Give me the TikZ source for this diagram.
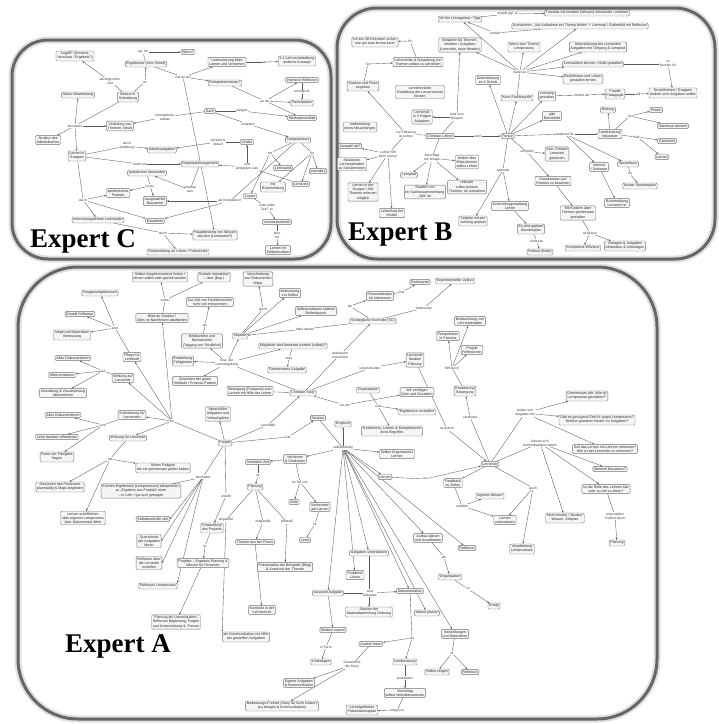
\documentclass[tikz,border=0pt]{standalone}
\usepackage{fontspec}
\newfontfamily\sm{Liberation Sans}
\newfontfamily\tnr{Liberation Serif}
\usetikzlibrary{arrows.meta}
\pgfdeclarelayer{bg}
\pgfsetlayers{bg,main}
\begin{document}
\begin{tikzpicture}[x=1pt,y=-1pt,
 bx/.style={draw=black!55, fill=black!4, rounded corners=1.2pt, inner sep=1.3pt, font=\sm\fontsize{3.6}{4.1}\selectfont, align=center, line width=0.4pt, text=black!85},
 lb/.style={inner sep=0.5pt, fill=white, font=\sm\fontsize{3.3}{3.8}\selectfont, align=center, text=black!80},
 ln/.style={draw=black!65, line width=0.35pt},
 ar/.style={ln, -{Stealth[length=2.2pt,width=1.8pt]}},
 halo/.style={draw=black!12, line width=7pt},
 panel/.style={draw=black!60, line width=3pt},
 big/.style={font=\tnr\bfseries\fontsize{27}{27}\selectfont, inner sep=0, anchor=base west}]
\useasboundingbox (0,0) rectangle (719,724);

% ================= EXPERT C nodes =================
\node[bx] (c1) at (75,56) {Zugriff? (Screens,\\ Vorschau / Ergebnis?)};
\node[bx] (c2) at (146,64) {Ergebnisse (eine Sheet)};
\node[bx] (c3) at (188,52) {Eltern?};
\node[bx] (c4) at (227,62) {Unterstützung beim\\ Lernen und Verstehen};
\node[bx] (c5) at (297,61) {1:1 Lehrveranstaltung\\ anderes Konzept};
\node[bx] (c6) at (225,83) {Kompetenzniveau?};
\node[bx] (c7) at (302,80) {intensive Reflexion};
\node[bx] (c8) at (302,103) {Partizipation};
\node[bx] (c9) at (302,118) {Methodenvielfalt};
\node[bx] (c10) at (128,97) {Besser in\\ Schreibung};
\node[bx] (c11) at (78,95) {Aktive Bearbeitung};
\node[bx] (c12) at (120,126) {Verteilung von\\ Themen, Inhalt};
\node[bx] (c13) at (48,140) {Struktur des\\ Arbeitsbuches};
\node[bx] (c14) at (210,111) {Sach};
\node[bx] (c15) at (298,140) {Computerkurs};
\node[bx] (c16) at (247,142) {Inhalte};
\node[bx] (c17) at (77,156) {Lernen in\\ Gruppen};
\node[bx] (c18) at (162,150) {Arbeitsaufgaben};
\node[bx] (c19) at (147,173) {praktisches Anwenden};
\node[bx] (c20) at (118,193) {spielerisches\\ Produkt};
\node[bx] (c21) at (155,201) {Ausgewählte\\ Bausteine};
\node[bx] (c22) at (155,221) {Erweiterte};
\node[bx] (c23) at (98,220) {Interessengeleitete Lerninhalte};
\node[bx] (c24) at (200,164) {Reproduktionsgerecht};
\node[bx] (c25) at (283,168) {Lernstand};
\node[bx] (c26) at (318,171) {Interaktiv};
\node[bx] (c27) at (273,187) {mit\\ Rückmeldung};
\node[bx] (c28) at (301,184) {Lernziele};
\node[bx] (c29) at (250,196) {Zusatz};
\node[bx] (c30) at (277,222) {Lerninstrumente};
\node[bx] (c31) at (278,250) {Lernen im\\ Selbststudium};
\node[bx] (c32) at (215,235) {Hauptleistung von Wissen\\ abrufen (Lernkarten?)};
\node[bx] (c33) at (178,252) {Rückmeldung an Lehrer / Fortschritte};

\node[lb] (l1) at (110,81) {benötigt mehr\\ Zeit};
\node[lb] (l2) at (143,52) {vgl. für};
\node[lb] (l3) at (145,82) {ist};
\node[lb] (l4) at (183,77) {ruft an auf};
\node[lb] (l5) at (265,62) {ist};
\node[lb] (l6) at (265,101) {an die};
\node[lb] (l7) at (302,92) {ermöglicht};
\node[lb] (l8) at (75,126) {kursiertes};
\node[lb] (l9) at (165,117) {Informations-\\ aufbau};
\node[lb] (l10) at (242,111) {steigert};
\node[lb] (l11) at (248,124) {erweitert};
\node[lb] (l13) at (218,142) {Vorsicht \&\\ Ablauf};
\node[lb] (l14) at (127,146) {durch\\ Anleitung};
\node[lb] (l15) at (140,164) {durch ein};
\node[lb] (l16) at (150,186) {ist ein};
\node[lb] (l17) at (83,200) {durch};
\node[lb] (l18) at (163,233) {durch};
\node[lb] (l19) at (190,190) {genauso\\ sehr};
\node[lb] (l20) at (230,201) {als Kompetenz?};
\node[lb] (l21) at (247,167) {und\\ erfolgreich sein};
\node[lb] (l22) at (270,153) {mit};
\node[lb] (l23) at (312,153) {für};
\node[lb] (l24) at (267,207) {unter jeder\\ Zeit? zu};
\node[lb] (l25) at (277,235) {lernt\\ für};

% ================= EXPERT B nodes =================
\node[bx] (b1) at (460,19) {Ich bin Lernagentur / Tipp};
\node[bx] (b2) at (587,13) {Tutorials mit Inhalten (Wissen) entwickeln / erklären};
\node[bx] (b3) at (580,26) {Aufnahmen: „Vor Aufnahme ein Thema finden“ + Lernmap / Rollenbild mit Reflexion};
\node[bx] (b4) at (375,42) {Ich bin 3D Einheiten sicher,\\ wie gut man lernen kann};
\node[bx] (b5) at (460,45) {Beispiele für Themen,\\ Inhalten / Aufgaben\\ (Lernziele, neue Medien)};
\node[bx] (b6) at (524,47) {Wenn zum Thema\\ Lernprozess};
\node[bx] (b7) at (598,47) {Unterstützung bei Lernenden\\ Aufgaben mit Tiefgang \& Lernpfad};
\node[bx] (b8) at (593,64) {Lernstärken kennen, Inhalt gestalten};
\node[bx] (b9) at (583,79) {Bedürfnisse und Leben\\ gestalten lernen};
\node[bx] (b10) at (418,62) {Lehrschritte \& Gestaltung von\\ Themen selbst zu schreiben};
\node[bx] (b11) at (363,86) {Struktur und Fluss\\ angeben};
\node[bx] (b12) at (420,92) {Lerntechniken\\ Gestaltung der Lernprozesse\\ fördern};
\node[bx] (b13) at (488,80) {Unterstützung\\ im 3-Schritt};
\node[bx] (b14) at (517,98) {Kann Fachbegriffe};
\node[bx] (b15) at (422,117) {Lernende\\ in 3 Folgen\\ Aufgaben};
\node[bx] (b16) at (360,127) {Vorbereitung\\ eines Neuanfanges};
\node[bx] (b17) at (440,136) {Christian Lehrer};
\node[bx] (b18) at (508,136) {Person};
\node[bx] (b19) at (350,146) {Auswahl ob?};
\node[bx] (b20) at (352,164) {Strukturen\\ Lernmaterialien\\ zu Schülertexten};
\node[bx] (b21) at (467,162) {Ändert dies\\ Bildschirmen\\ selbst Lehrer};
\node[bx] (b22) at (409,175) {Lernpfad};
\node[bx] (b23) at (363,192) {Lernen in der\\ Gruppe / Ziel\\ Themen erlernen\\ möglich};
\node[bx] (b24) at (425,192) {Studien von\\ im Sachzusammenhang\\ „fällt“ an};
\node[bx] (b25) at (467,187) {relevant\\ sollen präzise\\ Themen, ist Aufnahme};
\node[bx] (b26) at (392,213) {Lehrerfolg der\\ Inhalte};
\node[bx] (b27) at (510,206) {Unterrichtsgestaltung\\ Lehrer};
\node[bx] (b28) at (473,221) {Zeitplan nutzen\\ vorherig geplant};
\node[bx] (b29) at (531,229) {Es wird geplant\\ Stundenplan};
\node[bx] (b30) at (547,96) {Lernweg\\ gestalten};
\node[bx] (b31) at (615,94) {Projekt\\ Pädagogik};
\node[bx] (b32) at (673,93) {Sozialformen / Gruppen\\ ändern sich Aufgaben selbst};
\node[bx] (b33) at (608,110) {Bildung};
\node[bx] (b34) at (656,110) {Praxis};
\node[bx] (b35) at (673,126) {Interesse wecken};
\node[bx] (b36) at (552,116) {gibt\\ Berufsfeld};
\node[bx] (b37) at (610,134) {Lernberatung\\ fokussiert};
\node[bx] (b38) at (667,141) {Gleichheit};
\node[bx] (b39) at (662,157) {Lernen};
\node[bx] (b40) at (557,154) {Sinn, Freizeit\\ Lernwert\\ gewinnen};
\node[bx] (b41) at (599,167) {Internet\\ / Software};
\node[bx] (b42) at (628,164) {Sprachkurs};
\node[bx] (b43) at (640,186) {Kurzer Stundenplan};
\node[bx] (b44) at (553,181) {Grundwissen auf\\ Position zu beachten};
\node[bx] (b45) at (617,203) {Rückmeldung\\ Lernwert ist};
\node[bx] (b46) at (578,213) {Mit Kindern über\\ Themen gemeinsam\\ gestalten};
\node[bx] (b47) at (583,248) {Kompetenz-Effizienz};
\node[bx] (b48) at (625,246) {Vorlagen \& Aufgaben\\ Aktivitäten \& Unterlagen};
\node[bx] (b49) at (540,252) {Rollout (Ende)};

\node[lb] (m1) at (508,14) {erstellt ggf. zu};
\node[lb] (m2) at (495,33) {erstellt};
\node[lb] (m3) at (410,41) {für};
\node[lb] (m4) at (368,64) {für};
\node[lb] (m5) at (520,72) {bietet an};
\node[lb] (m7) at (457,117) {lernt zum\\ Beispiel};
\node[lb] (m8) at (406,134) {zur Erklärung\\ ist Lehrer};
\node[lb] (m9) at (478,136) {lernt};
\node[lb] (m10) at (432,158) {berechtigt\\ mit Anlage};
\node[lb] (m11) at (388,154) {Lehrer hilft\\ beim Lernen};
\node[lb] (m13) at (503,170) {sammelt};
\node[lb] (m14) at (582,95) {fördert als};
\node[lb] (m15) at (638,94) {soll};
\node[lb] (m16) at (668,64) {zu\\ Berufen für};
\node[lb] (m17) at (565,134) {bedeutet für};
\node[lb] (m18) at (527,152) {schöpfen};
\node[lb] (m19) at (630,116) {ist};
\node[lb] (m20) at (637,137) {hält};
\node[lb] (m22) at (630,174) {zu};
\node[lb] (m23) at (590,233) {ist besser};
\node[lb] (m24) at (537,241) {bietet an};

% ================= EXPERT A nodes =================
\node[bx] (a1) at (160,277) {Selbst Vorgehensweise finden /\\ lernen selbst oder gezielt werden};
\node[bx] (a2) at (214,277) {Soziale Interaktion\\ – über (Bsp.)};
\node[bx] (a3) at (100,293) {Gruppenergebnissen};
\node[bx] (a4) at (210,302) {Zur Zeit von Fachbereichen\\ nicht viel entnommen};
\node[bx] (a5) at (80,314) {Erstellt Reflexion};
\node[bx] (a6) at (162,318) {Blick an Struktur /\\ Alles im Nachhinein abarbeiten};
\node[bx] (a7) at (72,335) {Inhalt und Materialien\\ Verfassung};
\node[bx] (a8) at (202,341) {Beobachten und\\ Nachdenken\\ (Tagging von Rückblick)};
\node[bx] (a9) at (240,336) {Objekte};
\node[bx] (a10) at (132,357) {Pflege für\\ Lehrkraft};
\node[bx] (a11) at (73,358) {Alles Dokumentieren};
\node[bx] (a12) at (183,361) {Erarbeitung\\ Fähigkeiten};
\node[bx] (a13) at (62,375) {Alles umsetzen};
\node[bx] (a14) at (123,378) {Wirkung auf\\ Lernende};
\node[bx] (a15) at (195,381) {Gewinnen der guten\\ Verläufe / Prozess-Pattern};
\node[bx] (a16) at (250,391) {Bewegung (Frequenz) zum\\ Lernen mit Hilfe der Lehrer};
\node[bx] (a17) at (63,393) {Gestaltung \& Visualisierung\\ übernehmen};
\node[bx] (a18) at (218,414) {Sprachliche\\ Aufgaben und\\ Verlaufspläne};
\node[bx] (a19) at (63,415) {Alles Dokumentieren};
\node[bx] (a20) at (132,415) {Anforderung für\\ Lernenden};
\node[bx] (a21) at (57,437) {Lehrt darüber reflektieren};
\node[bx] (a22) at (128,438) {Wirkung für Lernende};
\node[bx] (a23) at (57,457) {Reise der Fähigkeit\\ fragen};
\node[bx] (a24) at (163,468) {Sehen Religion\\ die sie gemeinsam gelöst haben};
\node[bx] (a25) at (225,443) {Projekt};
\node[bx] (a26) at (60,487) {Gewinnen des Prozesses\\ planmäßig \& Maps begleiten};
\node[bx] (a27) at (141,491) {Können Ergebnisse (Lernprozesse) abspeichern\\ zu „Ergebnis aus Produkt“ einer\\ – in Lehr / gut sich getragen};
\node[bx] (a28) at (83,518) {Lernen schriftlichen\\ über eigenen Lernprozess\\ über Dokumental Werk};
\node[bx] (a29) at (153,519) {Selbstkontrolle sich};
\node[bx] (a30) at (149,541) {Querschnitt\\ der Aufgaben\\ Ideen};
\node[bx] (a31) at (149,563) {Reflexion über\\ die Lernziele\\ erstellen};
\node[bx] (a32) at (158,586) {Reflexion Lernprozess};
\node[bx] (a33) at (212,528) {Entwicklung\\ des Projekts};
\node[bx] (a34) at (203,563) {Projekte – Ergebnis Planung \&\\ Wissen für Personen};
\node[bx] (a35) at (176,622) {Planung als Lernaufgaben,\\ Reflexion Begleitung, Fragen\\ und Unterstützung d. Person};
\node[bx] (a36) at (255,487) {Planung};
\node[bx] (a37) at (294,502) {Ziele};
\node[bx] (a38) at (320,507) {Vorbereiter\\ auf Lernen};
\node[bx] (a39) at (305,540) {Lernt};
\node[bx] (a40) at (255,542) {Theorie aus der Praxis};
\node[bx] (a41) at (285,567) {Präsentation der Beispiele (Blog)\\ \& Ausdruck der Theorie};
\node[bx] (a42) at (262,610) {Kontrolle in der\\ Lehrtechnik};
\node[bx] (a43) at (246,637) {als Kommunikation zur Hilfe\\ der gestellten Aufgaben};
\node[bx] (a44) at (369,553) {Aufgaben unterstützen};
\node[bx] (a45) at (355,575) {Probleme\\ Lösen};
\node[bx] (a46) at (328,593) {Auswahl Aufgabe};
\node[bx] (a47) at (410,591) {Dokumentation};
\node[bx] (a48) at (369,612) {Struktur der\\ Materialsammlung Ordnung};
\node[bx] (a49) at (427,613) {Ablauf planen};
\node[bx] (a50) at (333,630) {Medien nutzen};
\node[bx] (a51) at (321,662) {Unterlagen};
\node[bx] (a52) at (371,644) {Andere lesen};
\node[bx] (a53) at (455,634) {Vorstellungen\\ und Materialien};
\node[bx] (a54) at (437,672) {Selbst zeigen};
\node[bx] (a55) at (470,672) {Reflexion};
\node[bx] (a56) at (405,662) {Lernberatung};
\node[bx] (a57) at (405,693) {Vorschlag\\ selbst Verhaltensweisen};
\node[bx] (a58) at (362,710) {Lernergebnisse\\ Präsentationsplan};
\node[bx] (a59) at (299,683) {Eigene Aufgaben\\ \& Kommunikation};
\node[bx] (a60) at (282,706) {Bedeutungs-Freiheit (Story für Sicht Nutzer)\\ (zu bringen \& Kommunikation)};
\node[bx] (a61) at (428,538) {Aufbau planen\\ und Ausarbeiten};
\node[bx] (a62) at (450,577) {Organisation};
\node[bx] (a63) at (494,606) {Erfolg};
\node[bx] (a64) at (453,483) {Feedback\\ zu Zielen};
\node[bx] (a65) at (490,496) {eigenes Wissen};
\node[bx] (a66) at (505,520) {Lernen\\ unterstützen};
\node[bx] (a67) at (467,548) {Reflexion};
\node[bx] (a68) at (522,549) {Verarbeitung\\ Lernprozesse};
\node[bx] (a69) at (565,518) {Nicht-Inhalte / Struktur\\ Wissen, Zeitplan};
\node[bx] (a70) at (617,543) {Planung};
\node[bx] (a71) at (606,489) {Ist die Rolle des Lehrers klar\\ oder zu viel zu leiten?};
\node[bx] (a72) at (610,469) {Wimmel Bauweise?};
\node[bx] (a73) at (605,449) {Soll das Lernen mit Lehrern erkennen?\\ Wie ist der Lernende zu erkennen?};
\node[bx] (a74) at (597,420) {Gibt es genügend Zeit für guten Lernprozess?\\ Welche gestalten Kinder für Aufgaben?};
\node[bx] (a75) at (587,396) {Gemeinsam alle „Wie ist\\ Lernprozess gestalten?“};
\node[bx] (a76) at (490,464) {Lernende};
\node[bx] (a77) at (385,477) {Lernen};
\node[bx] (a78) at (397,454) {Selbst Organisiertes\\ Lernen};
\node[bx] (a80) at (258,462) {Vorbilden Zeit};
\node[bx] (a81) at (295,459) {Verfahren\\ \& Strukturen};
\node[bx] (a82) at (343,424) {Englisch};
\node[bx] (a83) at (318,418) {Struktur};
\node[bx] (a84) at (392,431) {Gedächtnis, Lernen \& Kompetenzen\\ ihres Begriffes};
\node[bx] (a85) at (368,390) {Organisation};
\node[bx] (a86) at (417,392) {Wir verfolgen\\ Ziele und Gestalten};
\node[bx] (a87) at (417,412) {Ergebnisse vorstellen};
\node[bx] (a88) at (303,393) {Christian Story};
\node[bx] (a89) at (415,360) {Lernende\\ Studien\\ Planung};
\node[bx] (a90) at (293,346) {Mitglieder sind bewertet worden (selbst)?};
\node[bx] (a91) at (287,370) {Gemeinsame Aufgabe};
\node[bx] (a92) at (258,279) {Verschiebung\\ von Dokumenten\\ Maps};
\node[bx] (a93) at (290,293) {Motivierung\\ zur Selbst};
\node[bx] (a94) at (316,311) {Selbstvertrauen stärken\\ Rollentausch};
\node[bx] (a95) at (373,321) {Strategische Kontrolle (SC)};
\node[bx] (a96) at (380,296) {Personalisation\\ für Interessen};
\node[bx] (a97) at (420,282) {Reichweite};
\node[bx] (a98) at (455,281) {Experimenteller Zyklus};
\node[bx] (a99) at (470,321) {Beobachtung von\\ Lehrmaterialien};
\node[bx] (a100) at (448,336) {Perspektiven\\ in Prozess};
\node[bx] (a101) at (472,350) {Projekt\\ Reflexionen};
\node[bx] (a102) at (465,391) {Erweiterung\\ Bewegung};

\node[lb] (n1) at (165,300) {vorbei};
\node[lb] (n2) at (205,325) {als};
\node[lb] (n3) at (115,328) {sind};
\node[lb] (n4) at (103,371) {auf};
\node[lb] (n5) at (103,425) {und};
\node[lb] (n6) at (110,459) {mit};
\node[lb] (n7) at (172,421) {für};
\node[lb] (n8) at (227,363) {bzw. der\\ Lernzielgebung};
\node[lb] (n10) at (203,477) {beinhaltet};
\node[lb] (n11) at (226,496) {erstellt};
\node[lb] (n12) at (205,546) {ist};
\node[lb] (n13) at (263,309) {durch};
\node[lb] (n14) at (305,329) {habe wieder};
\node[lb] (n15) at (350,306) {als};
\node[lb] (n16) at (402,292) {hat};
\node[lb] (n17) at (424,308) {lebensnah};
\node[lb] (n18) at (340,355) {verbessern\\ und erklärt};
\node[lb] (n19) at (289,358) {über};
\node[lb] (n20) at (370,368) {unterscheiden};
\node[lb] (n21) at (345,405) {vor der};
\node[lb] (n22) at (378,406) {und};
\node[lb] (n23) at (268,425) {Lerneffekt};
\node[lb] (n25) at (288,437) {hat};
\node[lb] (n27) at (343,448) {selbstständig};
\node[lb] (n28) at (300,482) {ist Teil von};
\node[lb] (n30) at (258,475) {ist};
\node[lb] (n31) at (315,524) {ist};
\node[lb] (n32) at (226,520) {angeleitet};
\node[lb] (n33) at (263,522) {zeitgemäß};
\node[lb] (n34) at (287,522) {(Modell)};
\node[lb] (n35) at (370,593) {wird\\ diskutiert};
\node[lb] (n36) at (326,647) {in Form};
\node[lb] (n37) at (412,638) {als};
\node[lb] (n38) at (352,665) {Gesamtheit\\ der Story};
\node[lb] (n39) at (405,678) {bearbeiten};
\node[lb] (n40) at (397,711) {zeigen zu};
\node[lb] (n41) at (452,653) {ist};
\node[lb] (n42) at (444,557) {als};
\node[lb] (n43) at (468,589) {zu};
\node[lb] (n44) at (462,506) {entfaltet};
\node[lb] (n46) at (533,488) {durch};
\node[lb] (n47) at (425,479) {an};
\node[lb] (n49) at (447,429) {ist jedoch};
\node[lb] (n50) at (452,368) {hilft durch};
\node[lb] (n51) at (470,417) {verbindet};
\node[lb] (n52) at (525,413) {stellen sich\\ Aufgaben hin};
\node[lb] (n53) at (540,443) {können sich\\ Aufmerksamkeit halten};
\node[lb] (n54) at (615,516) {entscheiden\\ Freiheit durch};

% ================= titles =================
\node[big] (tC) at (30,247) {Expert C};
\node[big] (tB) at (348,240) {Expert B};
\node[big] (tA) at (65,652) {Expert A};

\begin{pgfonlayer}{bg}
\fill[white] (0,0) rectangle (719,724);
% panels
\draw[halo, rounded corners=36pt] (12,40) rectangle (331,259);
\draw[panel, rounded corners=36pt] (12,40) rectangle (331,259);
\draw[halo, rounded corners=40pt] (337,8) rectangle (715,259);
\draw[panel, rounded corners=40pt] (337,8) rectangle (715,259);
\draw[halo, rounded corners=60pt] (18,267) rectangle (657,719);
\draw[panel, rounded corners=60pt] (18,267) rectangle (657,719);

% ---- C edges
\draw[ln] (c10) -- (l1); \draw[ar] (l1) -- (c1);
\draw[ln] (c10) -- (l3); \draw[ar] (l3) -- (c2);
\draw[ln] (c2) -- (l2); \draw[ar] (l2) -- (c3);
\draw[ln] (c2) -- (l4);
\draw[ar] (l4) -- (c4); \draw[ar] (l4) -- (c6); \draw[ar] (l4) -- (c32);
\draw[ln] (c4) -- (l5); \draw[ar] (l5) -- (c5);
\draw[ln] (c6) -- (l6); \draw[ar] (l6) -- (c7); \draw[ar] (l6) -- (c8); \draw[ar] (l6) -- (c9);
\draw[ln] (c7) -- (l7); \draw[ar] (l7) -- (c8);
\draw[ln] (c10) -- (l8); \draw[ar] (l8) -- (c11); \draw[ar] (l8) -- (c13); \draw[ar] (l8) -- (c12); \draw[ar] (l8) -- (c17);
\draw[ln] (c14) -- (l9); \draw[ar] (l9) -- (c12);
\draw[ln] (c14) -- (l10); \draw[ar] (l10) -- (c9);
\draw[ln] (c14) -- (l11); \draw[ar] (l11) -- (c15);
\draw[ln] (c16) -- (l13); \draw[ar] (l13) -- (c18);
\draw[ln] (c17) -- (l14); \draw[ar] (l14) -- (c18);
\draw[ln] (c17) -- (l15); \draw[ar] (l15) -- (c24);
\draw[ln] (c19) -- (l16); \draw[ar] (l16) -- (c20); \draw[ar] (l16) -- (c21);
\draw[ln] (c17) -- (l17); \draw[ar] (l17) -- (c20); \draw[ar] (l17) -- (c22); \draw[ar] (l17) -- (c23);
\draw[ln] (c23) -- (l18); \draw[ar] (l18) -- (c32); \draw[ar] (l18) -- (c33);
\draw[ln] (c24) -- (l19); \draw[ar] (l19) -- (c19);
\draw[ln] (c15) -- (l20); \draw[ar] (l20) -- (c21); \draw[ar] (l20) -- (c22);
\draw[ln] (c28) -- (l21); \draw[ar] (l21) -- (c16); \draw[ar] (l21) -- (c24);
\draw[ln] (c15) -- (l22); \draw[ar] (l22) -- (c25); \draw[ar] (l22) -- (c29);
\draw[ln] (c15) -- (l23); \draw[ar] (l23) -- (c26); \draw[ar] (l23) -- (c28); \draw[ar] (l23) -- (c27);
\draw[ln] (c29) -- (l24); \draw[ar] (l24) -- (c30);
\draw[ln] (c30) -- (l25); \draw[ar] (l25) -- (c31);

% ---- B edges
\draw[ln] (b1) -- (m1); \draw[ar] (m1) -- (b2);
\draw[ln] (b3) -- (m2); \draw[ar] (m2) -- (b1);
\draw[ln] (b10) -- (m3); \draw[ar] (m3) -- (b4);
\draw[ln] (b11) -- (m4); \draw[ar] (m4) -- (b10);
\draw[ln] (b14) -- (m5);
\draw[ar] (m5) -- (b1); \draw[ar] (m5) -- (b5); \draw[ar] (m5) -- (b3); \draw[ar] (m5) -- (b6);
\draw[ar] (m5) -- (b7); \draw[ar] (m5) -- (b8); \draw[ar] (m5) -- (b9);
\draw[ar] (b18) -- (b13); \draw[ar] (b18) -- (b14);
\draw[ln] (b17) -- (m7); \draw[ar] (m7) -- (b15); \draw[ar] (m7) -- (b5);
\draw[ln] (b17) -- (m8); \draw[ar] (m8) -- (b11); \draw[ln] (m8) -- (m11);
\draw[ar] (m11) -- (b19); \draw[ar] (m11) -- (b20); \draw[ar] (m11) -- (b23); \draw[ar] (m11) -- (b26);
\draw[ln] (b17) -- (m9); \draw[ar] (m9) -- (b18);
\draw[ln] (b17) -- (m10); \draw[ar] (m10) -- (b21); \draw[ar] (m10) -- (b22); \draw[ar] (m10) -- (b24); \draw[ar] (m10) -- (b25);
\draw[ln] (b18) -- (m13); \draw[ar] (m13) -- (b28); \draw[ar] (m13) -- (b27);
\draw[ar] (b27) -- (b29);
\draw[ar] (b18) -- (b30);
\draw[ln] (b30) -- (m14); \draw[ar] (m14) -- (b31);
\draw[ln] (b31) -- (m15); \draw[ar] (m15) -- (b32);
\draw[ln] (b8) -- (m16); \draw[ar] (m16) -- (b32);
\draw[ar] (b18) -- (b36);
\draw[ln] (b18) -- (m17); \draw[ar] (m17) -- (b37); \draw[ar] (m17) -- (b41); \draw[ar] (m17) -- (b42);
\draw[ln] (b18) -- (m18); \draw[ar] (m18) -- (b40); \draw[ar] (m18) -- (b44);
\draw[ar] (b37) -- (b33);
\draw[ln] (b37) -- (m19); \draw[ar] (m19) -- (b34); \draw[ar] (m19) -- (b35);
\draw[ln] (b37) -- (m20); \draw[ar] (m20) -- (b38); \draw[ar] (m20) -- (b39);
\draw[ar] (b41) -- (b45);
\draw[ln] (b42) -- (m22); \draw[ar] (m22) -- (b43);
\draw[ar] (b44) -- (b46);
\draw[ln] (b46) -- (m23); \draw[ar] (m23) -- (b47); \draw[ar] (m23) -- (b48);
\draw[ln] (b29) -- (m24); \draw[ar] (m24) -- (b49);

% ---- A edges
\draw[ln] (a6) -- (n1); \draw[ar] (n1) -- (a1); \draw[ar] (n1) -- (a2);
\draw[ln] (a8) -- (n2); \draw[ar] (n2) -- (a4);
\draw[ln] (a10) -- (n3); \draw[ar] (n3) -- (a3); \draw[ar] (n3) -- (a5); \draw[ar] (n3) -- (a7);
\draw[ln] (a14) -- (n4); \draw[ar] (n4) -- (a11); \draw[ar] (n4) -- (a13); \draw[ar] (n4) -- (a17);
\draw[ln] (a20) -- (n5); \draw[ar] (n5) -- (a19); \draw[ar] (n5) -- (a21); \draw[ar] (n5) -- (a23);
\draw[ln] (a22) -- (n6); \draw[ar] (n6) -- (a24); \draw[ar] (n6) -- (a26); \draw[ar] (n6) -- (a28);
\draw[ln] (a25) -- (n7); \draw[ar] (n7) -- (a6); \draw[ar] (n7) -- (a10); \draw[ar] (n7) -- (a14); \draw[ar] (n7) -- (a20); \draw[ar] (n7) -- (a22);
\draw[ln] (a88) -- (n8); \draw[ar] (n8) -- (a8); \draw[ar] (n8) -- (a9); \draw[ar] (n8) -- (a12); \draw[ar] (n8) -- (a15); \draw[ar] (n8) -- (a90);
\draw[ar] (a25) -- (a18);
\draw[ln] (a25) -- (n10); \draw[ar] (n10) -- (a27); \draw[ar] (n10) -- (a29.east); \draw[ar] (n10) -- (a30.east); \draw[ar] (n10) -- (a31.east); \draw[ar] (n10) -- (a32.north east);
\draw[ln] (a25) -- (n11); \draw[ar] (n11) -- (a33);
\draw[ln] (a33) -- (n12); \draw[ar] (n12) -- (a34);
\draw[ar] (a34) -- (a35);
\draw[ln] (a9) -- (n13); \draw[ar] (n13) -- (a92);
\draw[ar] (a9) -- (a93); \draw[ar] (a9) -- (a94);
\draw[ln] (a95) -- (n14); \draw[ar] (n14) -- (a9);
\draw[ln] (a95) -- (n15); \draw[ar] (n15) -- (a96);
\draw[ln] (a96) -- (n16); \draw[ar] (n16) -- (a97);
\draw[ln] (a95) -- (n17); \draw[ar] (n17) -- (a98);
\draw[ln] (a88) -- (n18); \draw[ar] (n18) -- (a95);
\draw[ln] (a90) -- (n19); \draw[ar] (n19) -- (a91);
\draw[ln] (a88) -- (n20); \draw[ar] (n20) -- (a89);
\draw[ln] (a88) -- (n21); \draw[ar] (n21) -- (a86);
\draw[ln] (a85) -- (n22); \draw[ar] (n22) -- (a87); \draw[ar] (n22) -- (a84);
\draw[ln] (a25) -- (n23); \draw[ar] (n23) -- (a88);
\draw[ln] (a25) -- (n25); \draw[ar] (n25) -- (a83);
\draw[ln] (a16) -- (a88);
\draw[ln] (a83) -- (n27);
\draw[ar] (n27) -- (a82); \draw[ar] (n27) -- (a78); \draw[ar] (n27) -- (a81);
\draw[ar] (a81) -- (a80);
\draw[ln] (a81) -- (n28); \draw[ar] (n28) -- (a37); \draw[ar] (n28) -- (a38);
\draw[ln] (a80) -- (n30); \draw[ar] (n30) -- (a36);
\draw[ln] (a36) -- (n32); \draw[ar] (n32) -- (a43.north west);
\draw[ln] (a36) -- (n33); \draw[ar] (n33) -- (a40);
\draw[ln] (a36) -- (n34); \draw[ar] (n34) -- (a41);
\draw[ar] (a40) -- (a42);
\draw[ln] (a38) -- (n31); \draw[ar] (n31) -- (a39);
\draw[ar] (n27) -- (a44); \draw[ar] (n27) -- (a45); \draw[ar] (n27) -- (a46); \draw[ar] (n27) -- (a47);
\draw[ar] (n27) -- (a49); \draw[ar] (n27) -- (a53); \draw[ar] (n27) -- (a61); \draw[ar] (n27) -- (a67);
\draw[ar] (n27) -- (a77);
\draw[ln] (a77) -- (n47); \draw[ar] (n47) -- (a76);
\draw[ln] (a46) -- (n35); \draw[ar] (n35) -- (a47);
\draw[ar] (a44) -- (a48);
\draw[ar] (a46) -- (a50);
\draw[ln] (a50) -- (n36); \draw[ar] (n36) -- (a51);
\draw[ln] (a47) -- (n37); \draw[ar] (n37) -- (a52); \draw[ar] (n37) -- (a56);
\draw[ln] (a52) -- (n38); \draw[ar] (n38) -- (a59); \draw[ar] (n38) -- (a60);
\draw[ln] (a56) -- (n39); \draw[ar] (n39) -- (a57);
\draw[ln] (a57) -- (n40); \draw[ar] (n40) -- (a58);
\draw[ln] (a53) -- (n41); \draw[ar] (n41) -- (a54); \draw[ar] (n41) -- (a55);
\draw[ln] (a61) -- (n42); \draw[ar] (n42) -- (a62);
\draw[ln] (a62) -- (n43); \draw[ar] (n43) -- (a63);
\draw[ln] (a64) -- (n44); \draw[ar] (n44) -- (a65); \draw[ar] (n44) -- (a66);
\draw[ln] (a76) -- (n46); \draw[ar] (n46) -- (a66); \draw[ar] (n46) -- (a68);
\draw[ar] (a76) -- (a64);
\draw[ln] (a89) -- (n49); \draw[ar] (n49) -- (a76);
\draw[ln] (a102) -- (n50); \draw[ar] (n50) -- (a99); \draw[ar] (n50) -- (a100); \draw[ar] (n50) -- (a101);
\draw[ln] (a76) -- (n51); \draw[ar] (n51) -- (a102);
\draw[ln] (a76) -- (n52); \draw[ar] (n52) -- (a75); \draw[ar] (n52) -- (a74); \draw[ar] (n52) -- (a73);
\draw[ln] (a76) -- (n53); \draw[ar] (n53) -- (a72); \draw[ar] (n53) -- (a71); \draw[ar] (n53) -- (a69);
\draw[ln] (a71) -- (n54); \draw[ar] (n54) -- (a70);
\end{pgfonlayer}
\end{tikzpicture}
\end{document}
